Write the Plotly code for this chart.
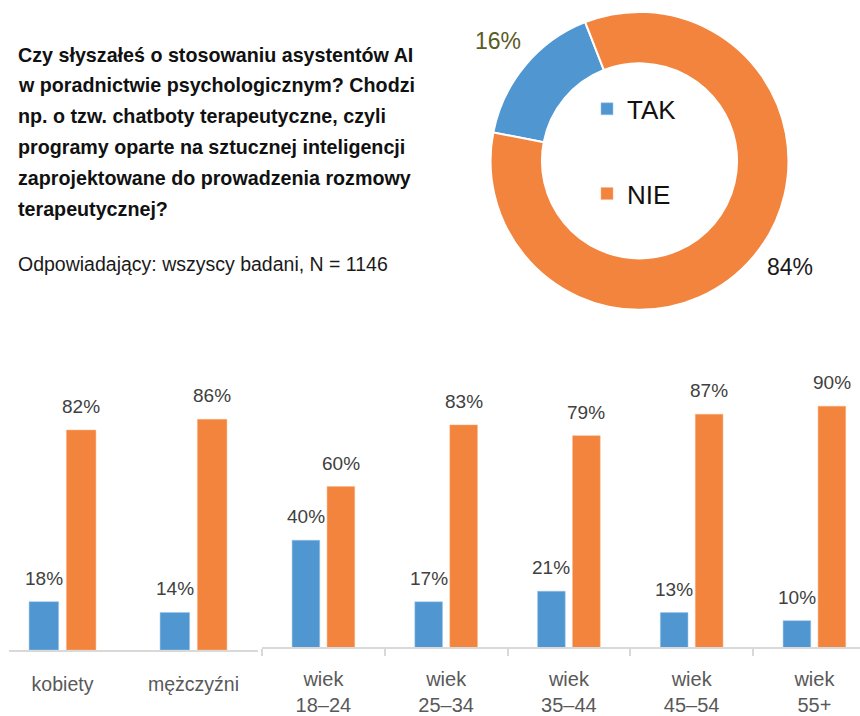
import math
import plotly.graph_objects as go

W, H = 860, 716

# ---------------- data ----------------
series_names = ["TAK", "NIE"]
donut_values = [16, 84]

gender_categories = ["kobiety", "mężczyźni"]
gender_tak = [18, 14]
gender_nie = [82, 86]

age_categories = ["wiek<br>18–24", "wiek<br>25–34", "wiek<br>35–44", "wiek<br>45–54", "wiek<br>55+"]
age_tak = [40, 17, 21, 13, 10]
age_nie = [60, 83, 79, 87, 90]

title_lines = [
    "Czy słyszałeś o stosowaniu asystentów AI",
    "w poradnictwie psychologicznym? Chodzi",
    "np. o tzw. chatboty terapeutyczne, czyli",
    "programy oparte na sztucznej inteligencji",
    "zaprojektowane do prowadzenia rozmowy",
    "terapeutycznej?",
]
subtitle_text = "Odpowiadający: wszyscy badani, N = 1146"

# ---------------- style ----------------
BLUE = "#5097D2"
ORANGE = "#F2843E"
SANS = "Liberation Sans, Arial, sans-serif"
AXIS_GREY = "#D9D9D9"
LABEL_GREY = "#595959"
VALUE_GREY = "#404040"

BARGAP = 0.43
BARGROUPGAP = 0.21


def px_x(p):
    return p / W


def px_y(p):
    return 1 - p / H


fig = go.Figure()

# ---------------- donut ----------------
cx, cy, R = 639.5, 162.0, 150.0
rotation = 281
fig.add_trace(go.Pie(
    values=donut_values,
    labels=series_names,
    hole=0.655,
    sort=False,
    direction="clockwise",
    rotation=rotation,
    marker=dict(colors=[BLUE, ORANGE], line=dict(color="white", width=2)),
    textinfo="none",
    showlegend=False,
    domain=dict(x=[px_x(cx - R), px_x(cx + R)], y=[px_y(cy + R), px_y(cy - R)]),
))

annotations = []

# donut percentage labels, placed at each slice's mid-angle
total = sum(donut_values)
cum = 0
label_colors = ["#5B5B1F", "#1A1A1A"]
label_nudges = [(1, 2), (8, 11)]
r_label = 185
for v, col, (nx, ny) in zip(donut_values, label_colors, label_nudges):
    mid = rotation + (cum + v / 2) / total * 360
    cum += v
    ang = math.radians(mid)
    lx = cx + r_label * math.sin(ang)
    ly = cy - r_label * math.cos(ang)
    annotations.append(dict(
        x=px_x(lx), y=px_y(ly), xref="paper", yref="paper",
        text=f"{v}%", showarrow=False, xanchor="center", yanchor="middle",
        xshift=nx, yshift=ny,
        font=dict(family=SANS, size=23, color=col),
    ))

# ---------------- bars ----------------
fig.add_trace(go.Bar(
    x=gender_categories, y=gender_tak, name=series_names[0],
    marker=dict(color=BLUE, line=dict(color="#9CC3E6", width=0.5)),
    xaxis="x", yaxis="y", legendgroup="TAK", showlegend=True,
))
fig.add_trace(go.Bar(
    x=gender_categories, y=gender_nie, name=series_names[1],
    marker=dict(color=ORANGE, line=dict(color="#F8B27F", width=0.5)),
    xaxis="x", yaxis="y", legendgroup="NIE", showlegend=True,
))
fig.add_trace(go.Bar(
    x=age_categories, y=age_tak, name=series_names[0],
    marker=dict(color=BLUE, line=dict(color="#9CC3E6", width=0.5)),
    xaxis="x2", yaxis="y2", legendgroup="TAK", showlegend=False,
))
fig.add_trace(go.Bar(
    x=age_categories, y=age_nie, name=series_names[1],
    marker=dict(color=ORANGE, line=dict(color="#F8B27F", width=0.5)),
    xaxis="x2", yaxis="y2", legendgroup="NIE", showlegend=False,
))

# value labels above bars
off = (1 - BARGAP) / 4
for xref, yref, cats, tak, nie in [
    ("x", "y", gender_categories, gender_tak, gender_nie),
    ("x2", "y2", age_categories, age_tak, age_nie),
]:
    for i in range(len(cats)):
        for val, d in ((tak[i], -off), (nie[i], off)):
            annotations.append(dict(
                x=i + d, y=val, xref=xref, yref=yref,
                text=f"{val}%", showarrow=False, xanchor="center", yanchor="bottom",
                yshift=11,
                font=dict(family=SANS, size=19, color=VALUE_GREY),
            ))

# title (one annotation per line for the reference's line spacing) and subtitle
TITLE_TOP = 55      # centre of first line, px
TITLE_STEP = 31     # line spacing, px
for k, line in enumerate(title_lines):
    annotations.append(dict(
        x=px_x(16), y=px_y(TITLE_TOP + k * TITLE_STEP), xref="paper", yref="paper",
        text=line, showarrow=False, xanchor="left", yanchor="middle",
        align="left", font=dict(family=SANS, size=19.7, color="#111111", weight="bold"),
    ))
annotations.append(dict(
    x=px_x(16), y=px_y(266), xref="paper", yref="paper",
    text=subtitle_text, showarrow=False, xanchor="left", yanchor="middle",
    align="left", font=dict(family=SANS, size=19.5, color="#1A1A1A"),
))

# axis geometry (pixel -> category units)
left_cat_w = 131.0
left_c0 = 62.5
right_cat_w = 122.75
right_c0 = 323.4

fig.update_layout(
    width=W, height=H,
    margin=dict(l=0, r=0, t=0, b=0),
    paper_bgcolor="white", plot_bgcolor="white",
    barmode="group", bargap=BARGAP, bargroupgap=BARGROUPGAP,
    annotations=annotations,
    showlegend=True,
    legend=dict(
        x=px_x(587), y=px_y(86), xanchor="left", yanchor="top",
        font=dict(family=SANS, size=26, color="#111111"),
        traceorder="grouped", tracegroupgap=48,
        bgcolor="rgba(0,0,0,0)", itemclick=False,
    ),
    xaxis=dict(
        domain=[px_x(9), px_x(258)],
        range=[(9 - left_c0) / left_cat_w, (258 - left_c0) / left_cat_w],
        type="category", showline=True, linecolor=AXIS_GREY, linewidth=2,
        ticks="", showgrid=False, zeroline=False,
        tickfont=dict(family=SANS, size=19.5, color=LABEL_GREY),
        ticklabelstandoff=16, fixedrange=True,
    ),
    yaxis=dict(
        domain=[px_y(654.5), px_y(654.5 - 270)], range=[0, 100],
        visible=False, fixedrange=True,
    ),
    xaxis2=dict(
        domain=[px_x(262), 1.0],
        range=[(262 - right_c0) / right_cat_w, (860 - right_c0) / right_cat_w],
        type="category", showline=True, linecolor=AXIS_GREY, linewidth=2,
        ticks="outside", tickson="boundaries", ticklen=7, tickcolor=AXIS_GREY, tickwidth=1.5,
        showgrid=False, zeroline=False,
        tickfont=dict(family=SANS, size=20, color=LABEL_GREY),
        ticklabelstandoff=13, fixedrange=True, anchor="y2",
    ),
    yaxis2=dict(
        domain=[px_y(652), px_y(652 - 270)], range=[0, 100],
        visible=False, fixedrange=True, anchor="x2",
    ),
)

fig.write_html(
    "out.html",
    config={"displayModeBar": False},
    post_script="document.body.style.margin='0';document.body.style.overflow='hidden';",
)
